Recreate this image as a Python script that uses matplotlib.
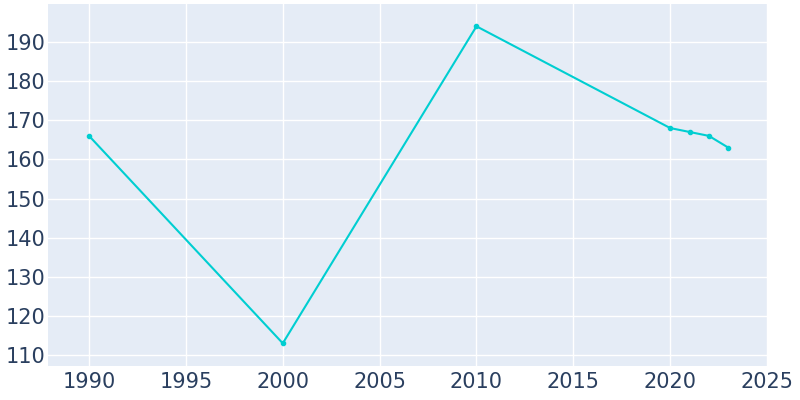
import matplotlib
matplotlib.use('Agg')
import matplotlib.pyplot as plt

# dados
anos = [1990, 2000, 2010, 2020, 2021, 2022, 2023]
populacao = [166, 113, 194, 168, 167, 166, 163]

fig = plt.figure(figsize=(8, 4), dpi=100)
ax = fig.add_axes([48 / 800, 34 / 400, 720 / 800, 362 / 400])
ax.set_facecolor('#E5ECF6')

ax.plot(anos, populacao, color='#00CED1', linewidth=1.5, marker='o', markersize=3)

ax.set_xlim(1987.88, 2025.05)
ax.set_ylim(107.2, 199.7)
ax.set_xticks(range(1990, 2026, 5))
ax.set_yticks(range(110, 191, 10))

ax.grid(True, color='white', linewidth=1)
ax.set_axisbelow(True)
for s in ax.spines.values():
    s.set_visible(False)
ax.tick_params(length=0, labelsize=15, colors='#2a3f5f')
ax.tick_params(axis='y', pad=2)
ax.tick_params(axis='x', pad=4)

fig.savefig('out.png')
